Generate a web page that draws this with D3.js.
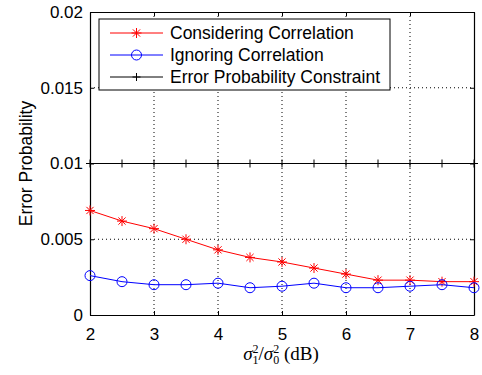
<!DOCTYPE html>
<html>
<head>
<meta charset="utf-8">
<script src="https://cdn.jsdelivr.net/npm/d3@7"></script>
<style>
  html, body { margin: 0; padding: 0; background: #fff; }
  svg { display: block; }
</style>
</head>
<body>
<svg id="chart" width="482" height="375"></svg>
<script>
// snr ratio in dB
const xVals        = [2, 2.5, 3, 3.5, 4, 4.5, 5, 5.5, 6, 6.5, 7, 7.5, 8];
const considering  = [0.0069, 0.0062, 0.0057, 0.0050, 0.0043, 0.0038, 0.0035, 0.0031, 0.0027, 0.0023, 0.0023, 0.0022, 0.0022];
const ignoring     = [0.0026, 0.0022, 0.0020, 0.0020, 0.0021, 0.0018, 0.0019, 0.0021, 0.0018, 0.0018, 0.0019, 0.0020, 0.0018];
const constraint   = [0.01, 0.01, 0.01, 0.01, 0.01, 0.01, 0.01, 0.01, 0.01, 0.01, 0.01, 0.01, 0.01];
const xTicks       = [2, 3, 4, 5, 6, 7, 8];
const yTicks       = [0, 0.005, 0.01, 0.015, 0.02];
const yTickLabels  = ['0', '0.005', '0.01', '0.015', '0.02'];
const seriesNames  = ['Considering Correlation', 'Ignoring Correlation', 'Error Probability Constraint'];

const PLOT_L = 90, PLOT_R = 474, PLOT_T = 12, PLOT_B = 315;
const FS = 17;
const SANS = '"Liberation Sans", Arial, sans-serif';
const SERIF = '"Liberation Serif", "DejaVu Serif", serif';

const svg = d3.select('#chart');
const x = d3.scaleLinear().domain([2, 8]).range([PLOT_L, PLOT_R]);
const y = d3.scaleLinear().domain([0, 0.02]).range([PLOT_B, PLOT_T]);

// grid (dotted)
const grid = svg.append('g');
grid.selectAll('.gx').data(xTicks.slice(1, -1)).enter().append('line')
    .attr('x1', d => x(d)).attr('x2', d => x(d))
    .attr('y1', PLOT_T).attr('y2', PLOT_B)
    .attr('stroke', '#000').attr('stroke-width', 1).attr('stroke-dasharray', '1,3');
grid.selectAll('.gy').data(yTicks.slice(1, -1)).enter().append('line')
    .attr('x1', PLOT_L).attr('x2', PLOT_R)
    .attr('y1', d => y(d)).attr('y2', d => y(d))
    .attr('stroke', '#000').attr('stroke-width', 1).attr('stroke-dasharray', '1,3');

// axes
const xAxis = svg.append('g').attr('transform', `translate(0,${PLOT_B})`)
    .call(d3.axisBottom(x).tickValues(xTicks).tickSizeInner(-4).tickSizeOuter(0).tickPadding(13)
        .tickFormat(d3.format('d')));
const xAxisTop = svg.append('g').attr('transform', `translate(0,${PLOT_T})`)
    .call(d3.axisTop(x).tickValues(xTicks).tickSizeInner(-4).tickSizeOuter(0).tickFormat(''));
const yAxis = svg.append('g').attr('transform', `translate(${PLOT_L},0)`)
    .call(d3.axisLeft(y).tickValues(yTicks).tickSizeInner(-4).tickSizeOuter(0).tickPadding(7)
        .tickFormat((d, i) => yTickLabels[i]));
const yAxisRight = svg.append('g').attr('transform', `translate(${PLOT_R},0)`)
    .call(d3.axisRight(y).tickValues(yTicks).tickSizeInner(-4).tickSizeOuter(0).tickFormat(''));

[xAxis, xAxisTop, yAxis, yAxisRight].forEach(a => {
    a.select('.domain').attr('stroke', '#000').attr('stroke-width', 1.2);
    a.selectAll('.tick line').attr('stroke', '#000');
    a.selectAll('.tick text').attr('font-size', FS).attr('fill', '#000')
        .attr('font-family', SANS);
});

const line = d3.line().x(d => x(d[0])).y(d => y(d[1]));
const pts = vals => xVals.map((v, i) => [v, vals[i]]);

// constraint line
svg.append('path').datum(pts(constraint)).attr('d', line)
    .attr('fill', 'none').attr('stroke', '#000').attr('stroke-width', 1);
svg.selectAll('.plus').data(pts(constraint)).enter().append('path')
    .attr('d', d => `M${x(d[0]) - 4},${y(d[1])}h8M${x(d[0])},${y(d[1]) - 4}v8`)
    .attr('stroke', '#000').attr('stroke-width', 1);

// considering correlation
const starPath = (cx, cy, r) => {
    let p = `M${cx - r},${cy}h${2 * r}M${cx},${cy - r}v${2 * r}`;
    const s = r * 0.72;
    p += `M${cx - s},${cy - s}L${cx + s},${cy + s}M${cx - s},${cy + s}L${cx + s},${cy - s}`;
    return p;
};
svg.append('path').datum(pts(considering)).attr('d', line)
    .attr('fill', 'none').attr('stroke', '#ff0000').attr('stroke-width', 1);
svg.selectAll('.star').data(pts(considering)).enter().append('path')
    .attr('d', d => starPath(x(d[0]), y(d[1]), 5))
    .attr('stroke', '#ff0000').attr('stroke-width', 1);

// ignoring correlation
svg.append('path').datum(pts(ignoring)).attr('d', line)
    .attr('fill', 'none').attr('stroke', '#0000ff').attr('stroke-width', 1);
svg.selectAll('.circ').data(pts(ignoring)).enter().append('circle')
    .attr('cx', d => x(d[0])).attr('cy', d => y(d[1])).attr('r', 5)
    .attr('fill', 'none').attr('stroke', '#0000ff').attr('stroke-width', 1);

// legend
const lg = svg.append('g');
lg.append('rect').attr('x', 99).attr('y', 19).attr('width', 291).attr('height', 71)
    .attr('fill', '#fff').attr('stroke', '#000').attr('stroke-width', 1);
const lgColors = ['#ff0000', '#0000ff', '#000'];
seriesNames.forEach((name, i) => {
    const ly = 33 + i * 22;
    lg.append('line').attr('x1', 110).attr('x2', 163).attr('y1', ly).attr('y2', ly)
        .attr('stroke', lgColors[i]).attr('stroke-width', 1);
    if (i === 0) {
        lg.append('path').attr('d', starPath(136.5, ly, 5)).attr('stroke', lgColors[i]);
    } else if (i === 1) {
        lg.append('circle').attr('cx', 136.5).attr('cy', ly).attr('r', 5)
            .attr('fill', 'none').attr('stroke', lgColors[i]);
    } else {
        lg.append('path').attr('d', `M132.5,${ly}h8M136.5,${ly - 4}v8`).attr('stroke', lgColors[i]);
    }
    lg.append('text').attr('x', 170).attr('y', ly + 6).attr('font-size', 17.5)
        .attr('font-family', SANS).attr('fill', '#000')
        .text(name);
});

// axis labels
svg.append('text').attr('transform', `translate(32,${(PLOT_T + PLOT_B) / 2}) rotate(-90)`)
    .attr('text-anchor', 'middle').attr('font-size', 17.5).attr('font-family', SANS).attr('fill', '#000')
    .text('Error Probability');

const xl = svg.append('text').attr('x', 281).attr('y', 360).attr('text-anchor', 'middle')
    .attr('font-family', SERIF).attr('font-size', 19).attr('fill', '#000');
xl.append('tspan').attr('font-style', 'italic').text('σ');
xl.append('tspan').attr('font-size', 12).attr('dy', -7).text('2');
xl.append('tspan').attr('font-size', 12).attr('dx', -6).attr('dy', 11).text('1');
xl.append('tspan').attr('dy', -4).text('/');
xl.append('tspan').attr('font-style', 'italic').text('σ');
xl.append('tspan').attr('font-size', 12).attr('dy', -7).text('2');
xl.append('tspan').attr('font-size', 12).attr('dx', -6).attr('dy', 11).text('0');
xl.append('tspan').attr('dy', -4).text(' (dB)');
</script>
</body>
</html>
